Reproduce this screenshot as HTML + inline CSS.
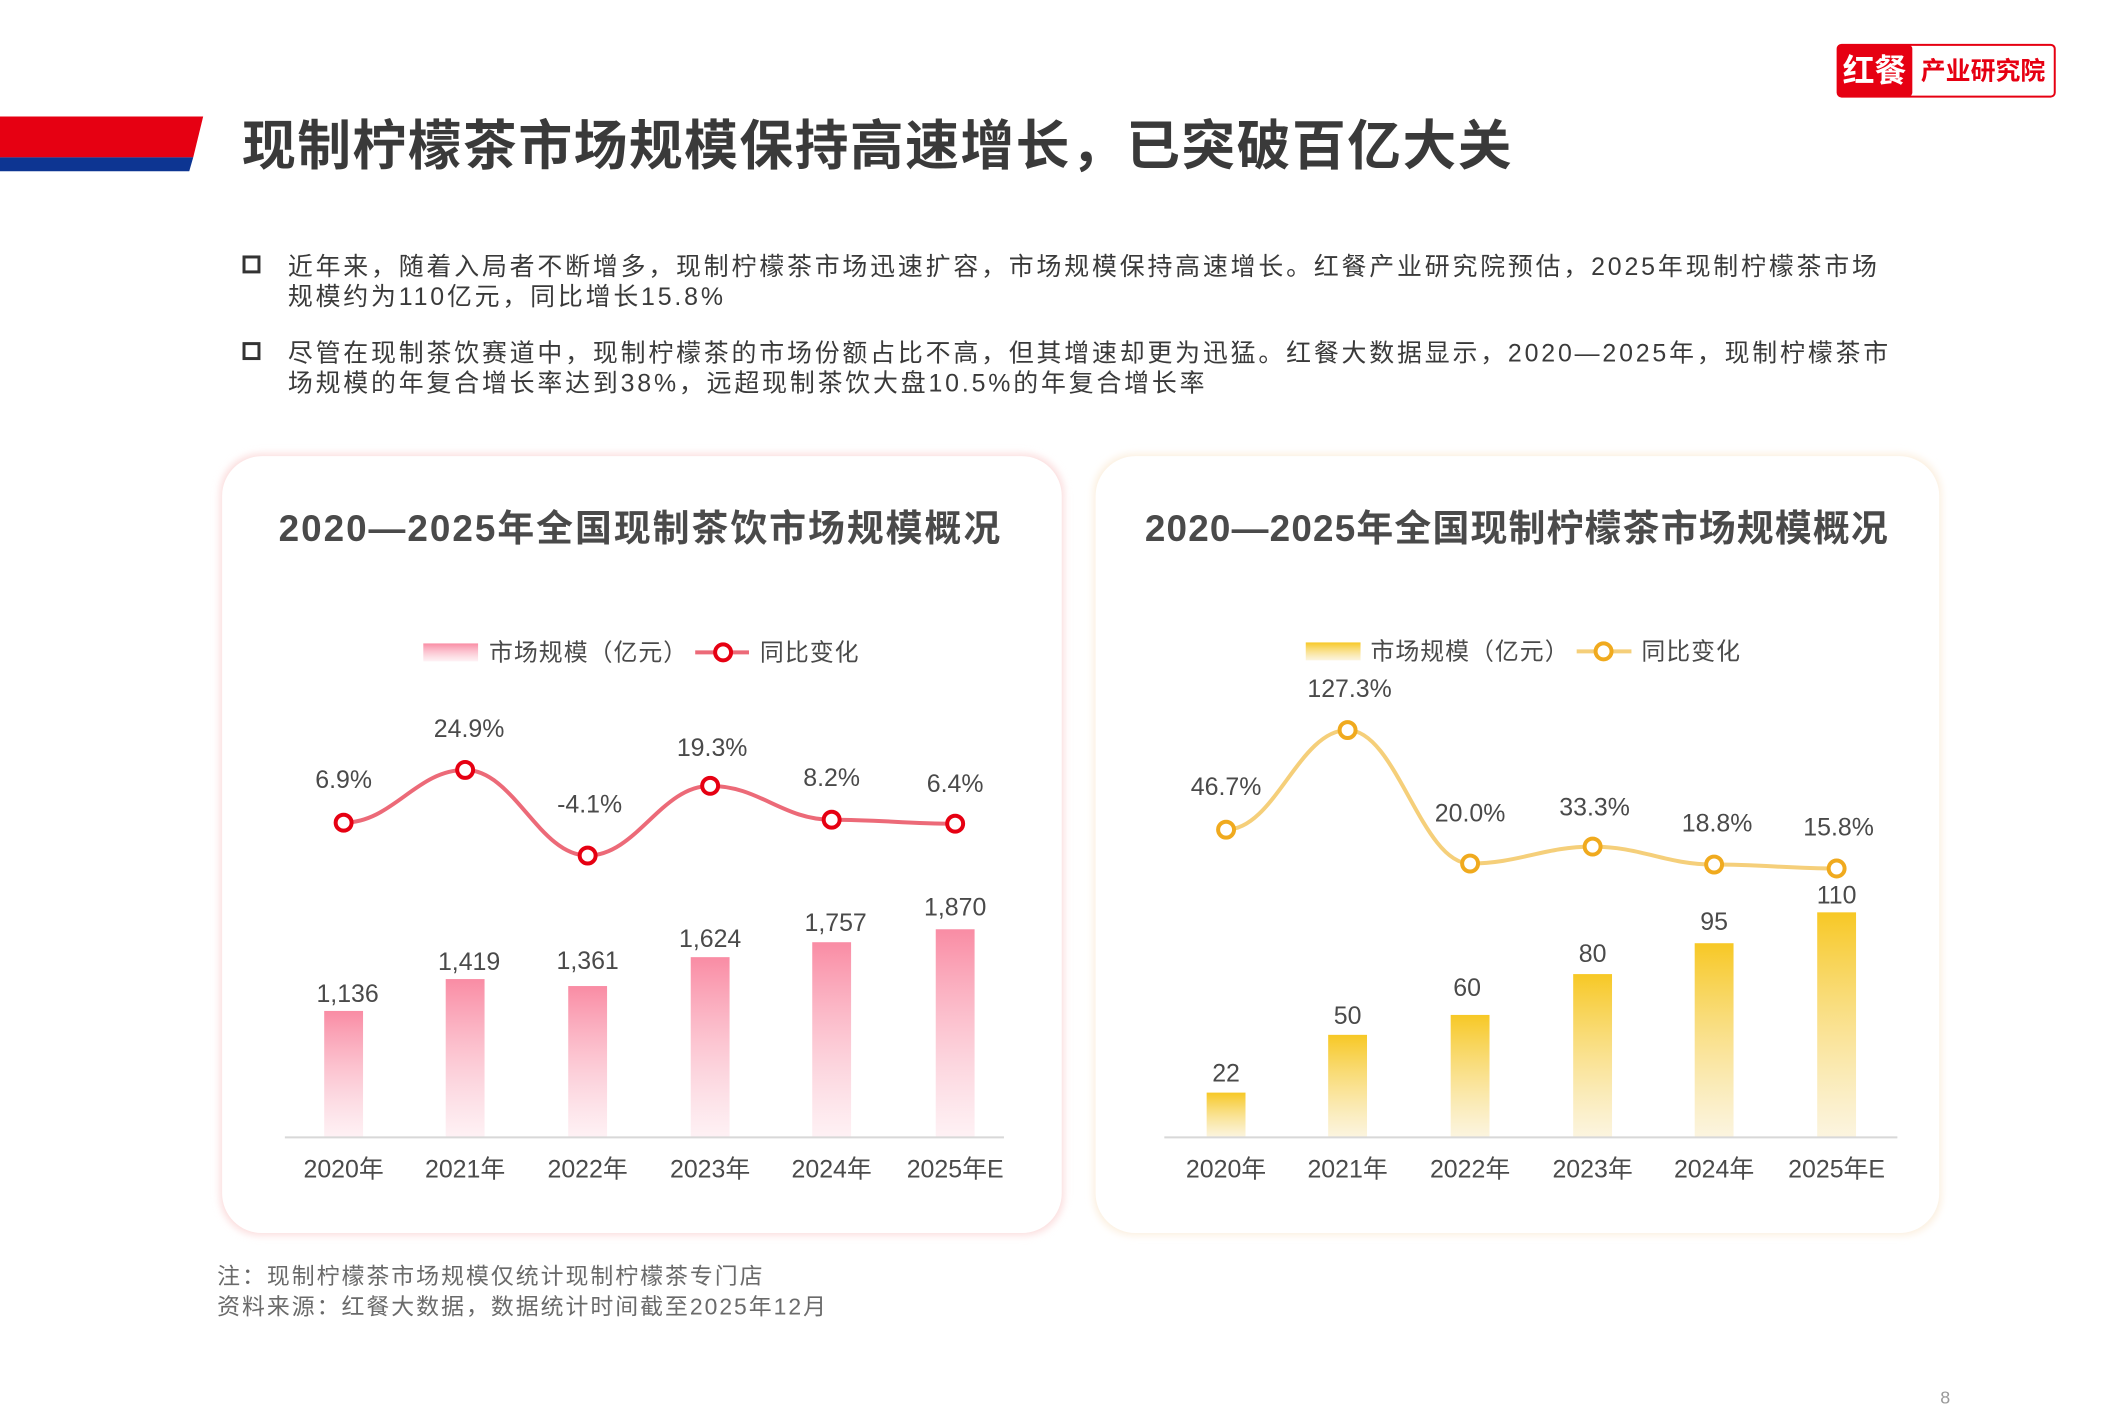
<!DOCTYPE html>
<html><head><meta charset="utf-8"><style>
html,body{margin:0;padding:0;background:#fff;}
svg{display:block;font-family:"Liberation Sans","Noto Sans CJK SC",sans-serif;}
</style></head><body>
<svg width="2126" height="1418" viewBox="0 0 2126 1418" xmlns="http://www.w3.org/2000/svg">
<defs>
<linearGradient id="pk" x1="0" y1="0" x2="0" y2="1"><stop offset="0" stop-color="#f98ca4"/><stop offset="1" stop-color="#fde8ed" stop-opacity="0.6"/></linearGradient>
<linearGradient id="yl" x1="0" y1="0" x2="0" y2="1"><stop offset="0" stop-color="#f7c825"/><stop offset="1" stop-color="#faf0d2" stop-opacity="0.7"/></linearGradient>
<filter id="sh" x="-5%" y="-5%" width="110%" height="110%"><feGaussianBlur stdDeviation="4"/></filter>
</defs>
<rect width="2126" height="1418" fill="#fff"/>
<g transform="scale(0.996)">
<polygon points="0,117 204,117 194,158 0,158" fill="#e60012"/>
<polygon points="0,158 194,158 190,172 0,172" fill="#0d3592"/>
<text x="243" y="165" font-size="54" font-weight="bold" fill="#3a3a3a" letter-spacing="1.5">现制柠檬茶市场规模保持高速增长，已突破百亿大关</text>
<rect x="1845" y="45" width="218" height="52" rx="4" fill="#fff" stroke="#e60012" stroke-width="2"/>
<rect x="1845" y="45" width="75" height="52" rx="4" fill="#e60012"/>
<text x="1882" y="82" font-size="32" font-weight="bold" fill="#fff" text-anchor="middle">红餐</text>
<text x="1991" y="80" font-size="25" font-weight="bold" fill="#e60012" text-anchor="middle">产业研究院</text>
<g font-size="25" fill="#3a3a3a" letter-spacing="2.85">
<rect x="245" y="258" width="15" height="15" fill="none" stroke="#333" stroke-width="3"/>
<text x="289" y="276">近年来，随着入局者不断增多，现制柠檬茶市场迅速扩容，市场规模保持高速增长。红餐产业研究院预估，2025年现制柠檬茶市场</text>
<text x="289" y="306">规模约为110亿元，同比增长15.8%</text>
<rect x="245" y="345" width="15" height="15" fill="none" stroke="#333" stroke-width="3"/>
<text x="289" y="363">尽管在现制茶饮赛道中，现制柠檬茶的市场份额占比不高，但其增速却更为迅猛。红餐大数据显示，2020—2025年，现制柠檬茶市</text>
<text x="289" y="393">场规模的年复合增长率达到38%，远超现制茶饮大盘10.5%的年复合增长率</text>
</g>
<rect x="221" y="456" width="847" height="784" rx="40" fill="#fbdada" filter="url(#sh)"/>
<rect x="223" y="458" width="843" height="780" rx="40" fill="#fff"/>
<rect x="1098" y="456" width="851" height="784" rx="40" fill="#fbeedd" filter="url(#sh)"/>
<rect x="1100" y="458" width="847" height="780" rx="40" fill="#fff"/>
<text x="643" y="543" font-size="37" font-weight="bold" fill="#4a4a4a" text-anchor="middle" letter-spacing="2">2020—2025年全国现制茶饮市场规模概况</text>
<text x="1523" y="543" font-size="37" font-weight="bold" fill="#4a4a4a" text-anchor="middle" letter-spacing="1.2">2020—2025年全国现制柠檬茶市场规模概况</text>
<g font-size="24" fill="#4a4a4a">
<rect x="425" y="646" width="55" height="18" fill="url(#pk)"/>
<text x="491" y="663" letter-spacing="1">市场规模（亿元）</text>
<line x1="698" y1="655" x2="752" y2="655" stroke="#ec6a78" stroke-width="4"/>
<circle cx="726" cy="655" r="8" fill="#fff" stroke="#e60012" stroke-width="4"/>
<text x="763" y="663" letter-spacing="1">同比变化</text>
<rect x="1311" y="645" width="55" height="18" fill="url(#yl)"/>
<text x="1376" y="662" letter-spacing="1">市场规模（亿元）</text>
<line x1="1583" y1="654" x2="1638" y2="654" stroke="#f5cf7a" stroke-width="4"/>
<circle cx="1610" cy="654" r="8" fill="#fff" stroke="#f0aa1e" stroke-width="4"/>
<text x="1648" y="662" letter-spacing="1">同比变化</text>
</g>
<g fill="url(#pk)">
<rect x="325.5" y="1015" width="39" height="127"/>
<rect x="447.5" y="983" width="39" height="159"/>
<rect x="570.5" y="990" width="39" height="152"/>
<rect x="693.5" y="961" width="39" height="181"/>
<rect x="815.5" y="946" width="39" height="196"/>
<rect x="939.5" y="933" width="39" height="209"/>
</g>
<line x1="286" y1="1142" x2="1008" y2="1142" stroke="#d8d8d8" stroke-width="2"/>
<g font-size="25" fill="#4a4a4a" text-anchor="middle">
<text x="349" y="1006">1,136</text><text x="471" y="974">1,419</text><text x="590" y="973">1,361</text>
<text x="713" y="951">1,624</text><text x="839" y="935">1,757</text><text x="959" y="919">1,870</text>
<text x="345" y="1182">2020年</text><text x="467" y="1182">2021年</text><text x="590" y="1182">2022年</text>
<text x="713" y="1182">2023年</text><text x="835" y="1182">2024年</text><text x="959" y="1182">2025年E</text>
<text x="345" y="791">6.9%</text><text x="471" y="740">24.9%</text><text x="592" y="816">-4.1%</text>
<text x="715" y="759">19.3%</text><text x="835" y="789">8.2%</text><text x="959" y="795">6.4%</text>
</g>
<path d="M345 826 C394 826 418 773 467 773 C516 773 541 859 590 859 C639 859 664 789 713 789 C762 789 786 823 835 823 C884 823 910 827 959 827" fill="none" stroke="#ec6a78" stroke-width="4"/>
<g fill="#fff" stroke="#e60012" stroke-width="4">
<circle cx="345" cy="826" r="8"/><circle cx="467" cy="773" r="8"/><circle cx="590" cy="859" r="8"/>
<circle cx="713" cy="789" r="8"/><circle cx="835" cy="823" r="8"/><circle cx="959" cy="827" r="8"/>
</g>
<g fill="url(#yl)">
<rect x="1211.5" y="1097" width="39" height="45"/>
<rect x="1333.5" y="1039" width="39" height="103"/>
<rect x="1456.5" y="1019" width="39" height="123"/>
<rect x="1579.5" y="978" width="39" height="164"/>
<rect x="1701.5" y="947" width="39" height="195"/>
<rect x="1824.5" y="916" width="39" height="226"/>
</g>
<line x1="1169" y1="1142" x2="1905" y2="1142" stroke="#d8d8d8" stroke-width="2"/>
<g font-size="25" fill="#4a4a4a" text-anchor="middle">
<text x="1231" y="1086">22</text><text x="1353" y="1028">50</text><text x="1473" y="1000">60</text>
<text x="1599" y="966">80</text><text x="1721" y="934">95</text><text x="1844" y="907">110</text>
<text x="1231" y="1182">2020年</text><text x="1353" y="1182">2021年</text><text x="1476" y="1182">2022年</text>
<text x="1599" y="1182">2023年</text><text x="1721" y="1182">2024年</text><text x="1844" y="1182">2025年E</text>
<text x="1231" y="798">46.7%</text><text x="1355" y="700">127.3%</text><text x="1476" y="825">20.0%</text>
<text x="1601" y="819">33.3%</text><text x="1724" y="835">18.8%</text><text x="1846" y="839">15.8%</text>
</g>
<path d="M1231 833 C1280 833 1304 733 1353 733 C1402 733 1427 867 1476 867 C1525 867 1550 850 1599 850 C1648 850 1672 868 1721 868 C1770 868 1795 872 1844 872" fill="none" stroke="#f5cf7a" stroke-width="4"/>
<g fill="#fff" stroke="#f0aa1e" stroke-width="4">
<circle cx="1231" cy="833" r="8"/><circle cx="1353" cy="733" r="8"/><circle cx="1476" cy="867" r="8"/>
<circle cx="1599" cy="850" r="8"/><circle cx="1721" cy="868" r="8"/><circle cx="1844" cy="872" r="8"/>
</g>
<g font-size="23" fill="#6a6a6a" letter-spacing="2">
<text x="218" y="1289">注：现制柠檬茶市场规模仅统计现制柠檬茶专门店</text>
<text x="218" y="1320">资料来源：红餐大数据，数据统计时间截至2025年12月</text>
</g>
<text x="1953" y="1409" font-size="18" fill="#999" text-anchor="middle">8</text>
</g>
</svg>
</body></html>
